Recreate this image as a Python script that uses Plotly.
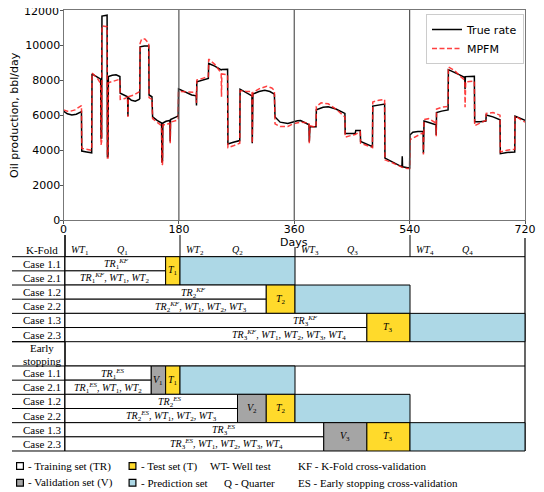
import plotly.graph_objects as go

# ---------------- data ----------------
days_true = [0, 6, 13, 20, 28, 28.5, 36, 44, 44.5, 58, 58.5, 59.5, 60, 68, 68.5, 69.5,
             70, 76, 82, 88, 88.5, 96, 100, 100.5, 101, 106, 112, 118, 119,
             119.5, 126, 133, 133.5, 138, 139, 146, 153, 153.5, 154.5,
             155, 160, 166, 166.5, 167, 176, 179, 179.5, 190, 200, 207, 207.5,
             208, 217, 226, 226.5, 236, 246, 247, 256, 256.5, 265, 275,
             275.5, 285, 294, 294.5, 295.5, 305, 314, 322, 329,
             330, 338, 350, 358, 365, 370, 383, 383.5, 384.5, 394,
             394.5, 405, 413, 425, 439, 439.5, 455, 456, 463, 463.5, 472, 482,
             482.5, 492, 501, 501.5, 512, 522, 528, 528.5, 529, 537, 540,
             540.5, 545, 553, 561, 561.5, 562.5, 570, 581, 581.5, 582, 590, 600,
             600.5, 610, 618, 626, 626.5, 627, 641, 641.5, 650, 659,
             659.5, 670, 681, 681.5, 692, 704, 704.5, 712, 720]
rate_true = [6230, 6080, 6010, 6050, 6200, 3950, 3900, 3850, 8350, 8050, 4700, 4700, 11650, 11700, 3600, 3650,
             8200, 8280, 8300, 8200, 7250, 7100, 7050, 5950, 7000, 6850, 6800, 6900, 6950,
             9900, 9950, 9950, 7150, 7050, 5900, 5700, 5550, 3300, 3400,
             5550, 5650, 5700, 4500, 5750, 5900, 5950, 7500, 7300, 7150, 7100, 6550,
             7900, 8000, 8100, 8950, 8800, 8580, 8600, 8620, 4350, 4450, 4550,
             7480, 7300, 7100, 4400, 7200, 7350, 7420, 7350, 7200,
             5900, 5600, 5520, 5620, 5680, 5690, 5450, 4480, 5350, 5340,
             6300, 6450, 6480, 6350, 6100, 4950, 4950, 5130, 5130, 4500, 4370, 4200,
             6520, 6580, 6630, 3550, 3350, 3150, 3050, 3650, 3050, 3000, 3000,
             4870, 5030, 5070, 5080, 3820, 5660, 5580, 5450, 4870, 6150, 6230, 6300,
             8600, 8450, 8300, 8150, 7500, 8200, 8220, 5620, 5620, 5660,
             6010, 5900, 5740, 3800, 3870, 3900, 5950, 5850, 5700]

days_mpfm = [0, 8, 18, 28, 28.5, 36, 44, 44.5, 52, 58, 58.5, 59.5, 60, 68, 68.5, 69.5,
             70, 80, 88, 88.5, 96, 100, 100.5, 101, 110, 118, 119,
             119.5, 122, 127, 133, 133.5, 138, 139, 146, 153, 153.5, 154.5,
             155, 160, 166, 166.5, 167, 176, 179, 179.5, 190, 200, 207, 207.5,
             208, 217, 226, 226.5, 236, 246, 246.5, 247, 256, 256.5, 265, 275,
             275.5, 285, 294, 294.5, 295.5, 305, 317, 325, 329,
             330, 338, 350, 358, 365, 370, 383, 383.5, 384.5, 394,
             394.5, 402, 413, 425, 439, 439.5, 455, 463, 463.5, 472, 482,
             482.5, 492, 501, 501.5, 512, 522, 530, 537, 540,
             540.5, 550, 561, 561.5, 562.5, 570, 581, 581.5, 582, 590, 600,
             600.5, 610, 618, 626, 626.5, 627.5, 641, 641.5, 650, 659,
             659.5, 670, 681, 681.5, 692, 704, 704.5, 712, 720]
rate_mpfm = [6300, 6200, 6300, 6550, 4100, 4050, 4000, 8400, 8150, 7800, 4300, 4500, 11100, 11050, 3550, 3550,
             7850, 7950, 8050, 6900, 6950, 7050, 5900, 7050, 7150, 7300, 7350,
             10100, 10350, 10350, 10100, 7000, 6900, 5800, 5600, 5400, 3150, 3200,
             5450, 5450, 5550, 4400, 5600, 5700, 5750, 7350, 7330, 7350, 7300, 6700,
             8000, 8100, 8200, 9200, 8900, 8400, 7050, 8350, 8300, 4150, 4250, 4400,
             7400, 7350, 7350, 4400, 7300, 7500, 7650, 7550, 7400,
             5500, 5350, 5350, 5500, 5550, 5600, 5550, 4400, 5400, 5300,
             6500, 6700, 6650, 6350, 5900, 4750, 4900, 5050, 4400, 4300, 4150,
             6750, 6850, 6900, 3450, 3300, 3150, 3000, 2950, 2950,
             4600, 4800, 5000, 3750, 5750, 5800, 5550, 4800, 6350, 6450, 6500,
             8750, 8550, 8250, 8000, 6450, 7900, 7950, 5400, 5550, 5700,
             6100, 6150, 6000, 3900, 4000, 4050, 5950, 5800, 5600]

x_ticks = [0, 180, 360, 540, 720]
y_ticks = [0, 2000, 4000, 6000, 8000, 10000, 12000]
quarter_bounds = [180, 360, 540]
quarter_starts = [0, 180, 360, 540]

test_start = [157.5, 315, 472.5]
test_end = [180, 360, 540]
pred_end = [360, 540, 720]
val_start = [135, 270, 405]

wt_labels = ["<i>WT</i><sub>1</sub>", "<i>WT</i><sub>2</sub>", "<i>WT</i><sub>3</sub>", "<i>WT</i><sub>4</sub>"]
q_labels = ["<i>Q</i><sub>1</sub>", "<i>Q</i><sub>2</sub>", "<i>Q</i><sub>3</sub>", "<i>Q</i><sub>4</sub>"]
kf_case1_text = ["<i>TR</i><sub>1</sub><sup><i>KF</i></sup>",
                 "<i>TR</i><sub>2</sub><sup><i>KF</i></sup>",
                 "<i>TR</i><sub>3</sub><sup><i>KF</i></sup>"]
kf_case2_text = ["<i>TR</i><sub>1</sub><sup><i>KF</i></sup>, <i>WT</i><sub>1</sub>, <i>WT</i><sub>2</sub>",
                 "<i>TR</i><sub>2</sub><sup><i>KF</i></sup>, <i>WT</i><sub>1</sub>, <i>WT</i><sub>2</sub>, <i>WT</i><sub>3</sub>",
                 "<i>TR</i><sub>3</sub><sup><i>KF</i></sup>, <i>WT</i><sub>1</sub>, <i>WT</i><sub>2</sub>, <i>WT</i><sub>3</sub>, <i>WT</i><sub>4</sub>"]
es_case1_text = ["<i>TR</i><sub>1</sub><sup><i>ES</i></sup>",
                 "<i>TR</i><sub>2</sub><sup><i>ES</i></sup>",
                 "<i>TR</i><sub>3</sub><sup><i>ES</i></sup>"]
es_case2_text = ["<i>TR</i><sub>1</sub><sup><i>ES</i></sup>, <i>WT</i><sub>1</sub>, <i>WT</i><sub>2</sub>",
                 "<i>TR</i><sub>2</sub><sup><i>ES</i></sup>, <i>WT</i><sub>1</sub>, <i>WT</i><sub>2</sub>, <i>WT</i><sub>3</sub>",
                 "<i>TR</i><sub>3</sub><sup><i>ES</i></sup>, <i>WT</i><sub>1</sub>, <i>WT</i><sub>2</sub>, <i>WT</i><sub>3</sub>, <i>WT</i><sub>4</sub>"]
t_labels = ["<i>T</i><sub>1</sub>", "<i>T</i><sub>2</sub>", "<i>T</i><sub>3</sub>"]
v_labels = ["<i>V</i><sub>1</sub>", "<i>V</i><sub>2</sub>", "<i>V</i><sub>3</sub>"]
kf_rows = ["Case 1.1", "Case 2.1", "Case 1.2", "Case 2.2", "Case 1.3", "Case 2.3"]

# ---------------- layout geometry ----------------
# the page is shown with an 8 px body margin, so the figure is drawn 8 px smaller
# and every reference pixel position is shifted by OFF
OFF = 8
W, H = 544, 492
WF, HF = W - OFF, H - OFF
PX0, PX720 = 63.5, 525.0          # top chart x pixel span (reference pixels)
TX0, TX720 = 65.0, 525.0          # table x pixel span (reference pixels)
K2 = 720 / (TX720 - TX0)


def tday(px):
    return (px - TX0) * K2


def pxx(px):
    return (px - OFF) / WF


def pxy(py):
    return 1 - (py - OFF) / HF


YELLOW = "#FFDA2B"
BLUE = "#ADD8E6"
GRAY = "#A5A5A5"
SERIF = "Liberation Serif"
SANS = "DejaVu Sans"

fig = go.Figure()
fig.add_trace(go.Scatter(x=days_true, y=rate_true, mode="lines", name="True rate",
                         line=dict(color="black", width=1.5)))
fig.add_trace(go.Scatter(x=days_mpfm, y=rate_mpfm, mode="lines", name="MPFM",
                         line=dict(color="rgba(255,30,30,0.85)", width=1.5, dash="5px,2.5px")))
# invisible trace to activate table axes
fig.add_trace(go.Scatter(x=[0], y=[300], xaxis="x2", yaxis="y2", mode="markers",
                         marker=dict(opacity=0), showlegend=False, hoverinfo="skip"))

shapes = []
annotations = []
LC = "black"

# quarter lines in top chart
for q in quarter_bounds:
    shapes.append(dict(type="line", xref="x", yref="y domain", x0=q, x1=q, y0=0, y1=1,
                       line=dict(color="#555", width=1.2)))

# y tick labels: the top one is written separately so it stays inside the page
y_ticktext = [str(v) for v in y_ticks[:-1]] + [""]
annotations.append(dict(xref="paper", yref="paper", x=pxx(60.5), y=pxy(11.5),
                        text=str(y_ticks[-1]), showarrow=False, xanchor="right",
                        yanchor="middle", font=dict(family=SANS, size=11, color="black")))

# table geometry (reference pixel rows)
hdr_line = 256.7
blk_h = 28.33
kf_tops = [hdr_line + i * blk_h for i in range(3)]
es_hdr_top = kf_tops[2] + blk_h
es_tops = [366.0 + i * blk_h for i in range(3)]
lab_x0 = tday(12)


def hline(y, x0, x1, w=1.0):
    shapes.append(dict(type="line", xref="x2", yref="y2", x0=x0, x1=x1, y0=y, y1=y,
                       line=dict(color=LC, width=w)))


def vline(x, y0, y1, w=1.0, c=LC):
    shapes.append(dict(type="line", xref="x2", yref="y2", x0=x, x1=x, y0=y0, y1=y1,
                       line=dict(color=c, width=w)))


def rect(x0, x1, y0, y1, fill):
    shapes.append(dict(type="rect", xref="x2", yref="y2", x0=x0, x1=x1, y0=y0, y1=y1,
                       fillcolor=fill, line=dict(color=LC, width=1.0), layer="above"))


def txt(x, y, s, anchor="center", size=11):
    annotations.append(dict(xref="x2", yref="y2", x=x, y=y, text=s, showarrow=False,
                            xanchor=anchor, yanchor="middle",
                            font=dict(family=SERIF, size=size, color="black")))


# header lines
hline(hdr_line, lab_x0, 720)
hline(366.0, lab_x0, 720)
vline(0, 235, 451, w=1.6)
vline(720, 238, 451, w=1.2)
vline(180, 235, hdr_line)
vline(360, 247, hdr_line)
vline(540, 235, hdr_line)

# header texts
txt(tday(41.5), 250, "K-Fold")
for i, qs in enumerate(quarter_starts):
    txt(qs + 6, 250, wt_labels[i], anchor="left", size=10)
    txt(qs + 90, 250, q_labels[i], size=10)
txt(tday(42), 348, "Early")
txt(tday(42), 360.5, "stopping")

# K-fold blocks
for i in range(3):
    top = kf_tops[i]
    mid = top + blk_h / 2
    bot = top + blk_h
    rect(0, test_start[i], top, mid, "white")
    rect(0, test_start[i], mid, bot, "white")
    rect(test_start[i], test_end[i], top, bot, YELLOW)
    rect(test_end[i], pred_end[i], top, bot, BLUE)
    hline(mid, lab_x0, 0)
    hline(bot, lab_x0, 0)
    txt(tday(41.5), (top + mid) / 2, kf_rows[2 * i])
    txt(tday(41.5), (mid + bot) / 2, kf_rows[2 * i + 1])
    txt((test_start[i] + test_end[i]) / 2, (top + bot) / 2, t_labels[i], size=10)

kf_c1_px = [116, 193, 305]
kf_c2_px = [114, 201, 289]
for i in range(3):
    top = kf_tops[i]
    txt(tday(kf_c1_px[i]), top + blk_h * 0.25 + 0.5, kf_case1_text[i], size=10)
    txt(tday(kf_c2_px[i]), top + blk_h * 0.75 + 0.5, kf_case2_text[i], size=10)

hline(es_hdr_top, lab_x0, 0)

# Early stopping blocks
es_c1_px = [112, 169.5, 223]
es_c2_px = [108, 171, 226]
for i in range(3):
    top = es_tops[i]
    mid = top + blk_h / 2
    bot = top + blk_h
    rect(0, val_start[i], top, mid, "white")
    rect(0, val_start[i], mid, bot, "white")
    rect(val_start[i], test_start[i], top, bot, GRAY)
    rect(test_start[i], test_end[i], top, bot, YELLOW)
    rect(test_end[i], pred_end[i], top, bot, BLUE)
    hline(mid, lab_x0, 0)
    hline(bot, lab_x0, 0)
    txt(tday(41.5), (top + mid) / 2, kf_rows[2 * i])
    txt(tday(41.5), (mid + bot) / 2, kf_rows[2 * i + 1])
    txt((val_start[i] + test_start[i]) / 2, (top + bot) / 2, v_labels[i], size=10)
    txt((test_start[i] + test_end[i]) / 2, (top + bot) / 2, t_labels[i], size=10)
    txt(tday(es_c1_px[i]), top + blk_h * 0.25 + 0.5, es_case1_text[i], size=10)
    txt(tday(es_c2_px[i]), top + blk_h * 0.75 + 0.5, es_case2_text[i], size=10)

# bottom key
key_rows = [466.0, 482.7]
sq = 3.4
for (px, py, fill) in [(20, key_rows[0], "white"), (132.5, key_rows[0], YELLOW),
                       (20, key_rows[1], GRAY), (132.5, key_rows[1], BLUE)]:
    shapes.append(dict(type="rect", xref="x2", yref="y2", x0=tday(px - sq), x1=tday(px + sq),
                       y0=py - sq, y1=py + sq, fillcolor=fill, line=dict(color=LC, width=1.2)))
txt(tday(26), key_rows[0], "- Training set (TR)", anchor="left")
txt(tday(139), key_rows[0], "- Test set (T)", anchor="left")
txt(tday(208), key_rows[0], "WT- Well test", anchor="left")
txt(tday(296), key_rows[0], "KF - K-Fold cross-validation", anchor="left")
txt(tday(26), key_rows[1], "- Validation set (V)", anchor="left")
txt(tday(139), key_rows[1], "- Prediction set", anchor="left")
txt(tday(222), key_rows[1], "Q - Quarter", anchor="left")
txt(tday(296), key_rows[1], "ES - Early stopping cross-validation", anchor="left")

# top chart titles
annotations.append(dict(xref="paper", yref="paper", x=pxx(294), y=pxy(242), text="Days",
                        showarrow=False, xanchor="center", yanchor="middle",
                        font=dict(family=SANS, size=11, color="black")))
annotations.append(dict(xref="paper", yref="paper", x=pxx(14), y=pxy(115),
                        text="Oil production, bbl/day", textangle=-90, showarrow=False,
                        xanchor="center", yanchor="middle",
                        font=dict(family=SANS, size=11, color="black")))

fig.update_layout(
    template="none",
    width=WF, height=HF, margin=dict(l=0, r=0, t=0, b=0, pad=0, autoexpand=False),
    paper_bgcolor="white", plot_bgcolor="white",
    font=dict(family=SANS, size=11, color="black"),
    xaxis=dict(domain=[pxx(PX0), pxx(PX720)], range=[0, 720], tickvals=x_ticks,
               ticks="outside", ticklen=3, tickcolor="#555", showgrid=False, zeroline=False,
               ticklabelstandoff=-5, ticklabeloverflow="allow",
               showline=True, linecolor="#777", mirror=True, anchor="y", automargin=False),
    yaxis=dict(domain=[pxy(220.3), pxy(10)], range=[0, 12000], tickvals=y_ticks,
               ticktext=y_ticktext, ticklabelstandoff=-3, ticklabeloverflow="allow",
               ticks="outside", ticklen=3, tickcolor="#555", showgrid=False, zeroline=False,
               showline=True, linecolor="#777", mirror=True, anchor="x", automargin=False),
    xaxis2=dict(domain=[0, 1], range=[tday(OFF), tday(W)],
                visible=False, anchor="y2", automargin=False),
    yaxis2=dict(domain=[0, pxy(232)], range=[H, 232], visible=False, anchor="x2",
                automargin=False),
    showlegend=True,
    legend=dict(x=pxx(426), y=pxy(14), xanchor="left", yanchor="top",
                bordercolor="#ccc", borderwidth=1, bgcolor="white",
                font=dict(family=SANS, size=11), tracegroupgap=0),
    shapes=shapes, annotations=annotations,
)

fig.write_html("out.html")
